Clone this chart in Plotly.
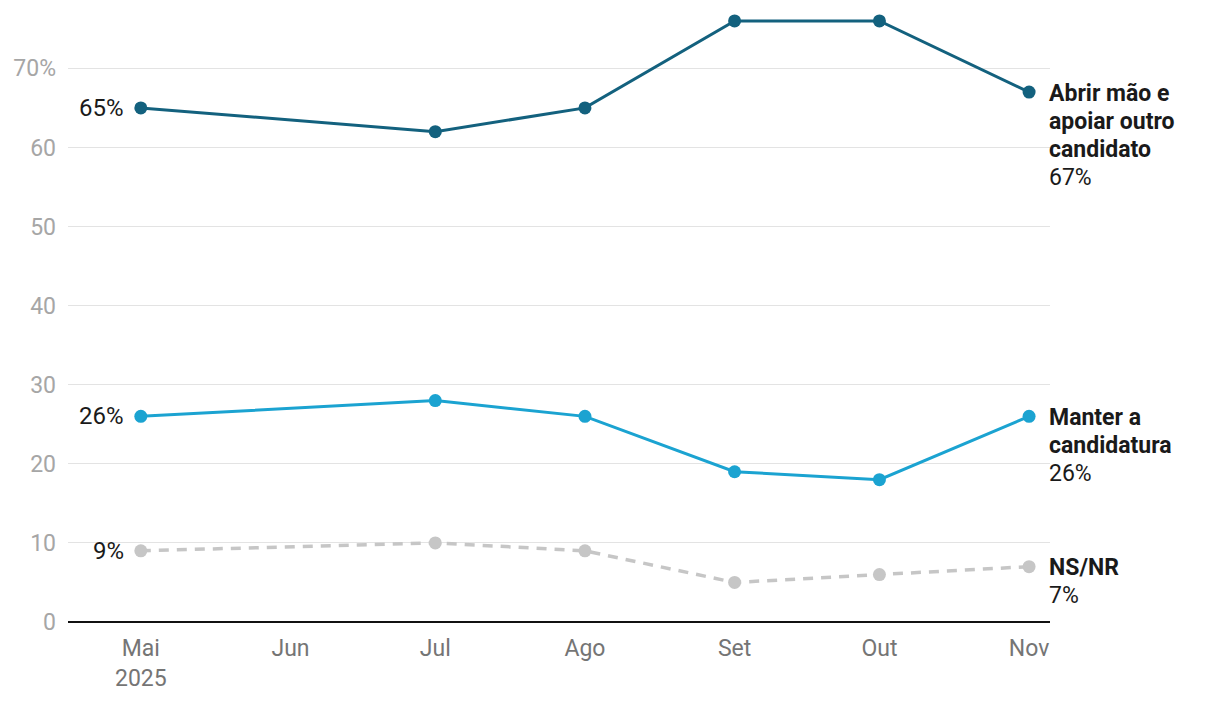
import plotly.graph_objects as go

dates = ["2025-05-01", "2025-07-01", "2025-08-01", "2025-09-01", "2025-10-01", "2025-11-01"]
abrir = [65, 62, 65, 76, 76, 67]
manter = [26, 28, 26, 19, 18, 26]
nsnr = [9, 10, 9, 5, 6, 7]

series = [
    (["Abrir mão e", "apoiar outro", "candidato"], abrir, "#13617e", "solid", 3),
    (["Manter a", "candidatura"], manter, "#1ba3d1", "solid", 3),
    (["NS/NR"], nsnr, "#c6c6c6", "10px,8px", 3.5),
]

xtick_vals = ["2025-05-01", "2025-06-01", "2025-07-01", "2025-08-01", "2025-09-01", "2025-10-01", "2025-11-01"]
xtick_text = ["Mai<br>2025", "Jun", "Jul", "Ago", "Set", "Out", "Nov"]
ytick_vals = [0, 10, 20, 30, 40, 50, 60, 70]
ytick_text = ["0", "10", "20", "30", "40", "50", "60", "70%"]

FONT = "Roboto"
LINE_H = 28
fig = go.Figure()
annotations = []
for name_lines, vals, color, dash, lw in series:
    fig.add_trace(go.Scatter(
        x=dates, y=vals, mode="lines+markers",
        line=dict(color=color, width=lw, dash=dash),
        marker=dict(color=color, size=13),
        cliponaxis=False, showlegend=False, hoverinfo="x+y",
    ))
    annotations.append(dict(
        x=dates[0], y=vals[0], text=f"{vals[0]}%", showarrow=False,
        xanchor="right", yanchor="middle", xshift=-15,
        font=dict(family=FONT, size=24, color="#1a1a1a"),
    ))
    lines = [f"<b>{t}</b>" for t in name_lines] + [f"{vals[-1]}%"]
    for i, t in enumerate(lines):
        annotations.append(dict(
            x=dates[-1], y=vals[-1], text=t, showarrow=False,
            xanchor="left", yanchor="middle", xshift=18, yshift=-1 - LINE_H * i, align="left",
            font=dict(family=FONT, size=23, color="#1a1a1a"),
        ))

fig.update_layout(
    width=1220, height=702,
    margin=dict(l=56, r=178, t=5, b=88),
    plot_bgcolor="white", paper_bgcolor="white",
    font=dict(family=FONT, size=24),
    annotations=annotations,
    xaxis=dict(
        type="date", range=["2025-04-15 22:00", "2025-11-05 08:00"],
        tickvals=xtick_vals, ticktext=xtick_text,
        showgrid=False, zeroline=False, showline=False, ticks="",
        ticklabelstandoff=10,
        tickfont=dict(family=FONT, size=23, color="#757575"),
    ),
    yaxis=dict(
        range=[0, 77], tickvals=ytick_vals, ticktext=ytick_text,
        showgrid=True, gridcolor="#e3e3e3", gridwidth=1,
        zeroline=True, zerolinecolor="#111111", zerolinewidth=2,
        showline=False, ticks="", ticklabelstandoff=11,
        tickfont=dict(family=FONT, size=23, color="#a6a6a6"),
    ),
)

fig.write_html("out.html")
